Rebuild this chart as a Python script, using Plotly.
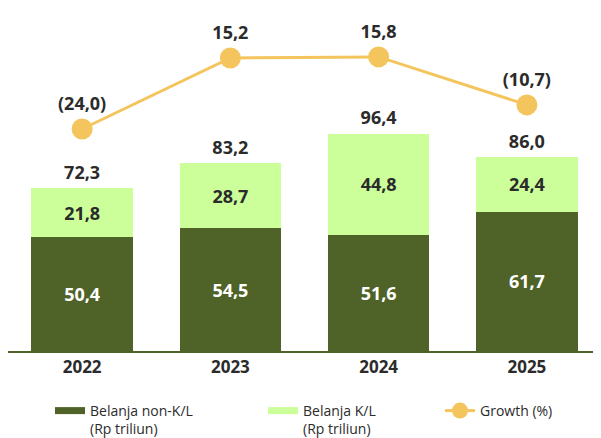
import plotly.graph_objects as go

years = ["2022", "2023", "2024", "2025"]
non_kl = [50.4, 54.5, 51.6, 61.7]
kl = [21.8, 28.7, 44.8, 24.4]
totals = [72.3, 83.2, 96.4, 86.0]
growth = [-24.0, 15.2, 15.8, -10.7]

DARK = "#4f6228"
LIGHT = "#ccff99"
GOLD = "#f4c55c"
TXT = "#2b2b2b"
FONT = "Open Sans"

W, H = 593, 430  # page body adds an 8px offset


def fmt(v):
    s = f"{abs(v):.1f}".replace(".", ",")
    return f"({s})" if v < 0 else s


fig = go.Figure()
fig.add_trace(go.Bar(
    x=years, y=non_kl, name="Belanja non-K/L", showlegend=False,
    marker=dict(color=DARK, line=dict(width=0)),
    text=[fmt(v) for v in non_kl], textposition="inside", insidetextanchor="middle",
    textfont=dict(family=FONT, size=18, color="white", weight="bold"),
    constraintext="none",
))
fig.add_trace(go.Bar(
    x=years, y=kl, name="Belanja K/L", showlegend=False,
    marker=dict(color=LIGHT, line=dict(width=0)),
    text=[fmt(v) for v in kl], textposition="inside", insidetextanchor="middle",
    textfont=dict(family=FONT, size=18, color=TXT, weight="bold"),
    constraintext="none",
))
fig.add_trace(go.Scatter(
    x=years, y=totals, mode="markers+text", showlegend=False,
    marker=dict(size=6, opacity=0), hoverinfo="skip",
    text=[fmt(v) for v in totals], textposition="top center",
    textfont=dict(family=FONT, size=18, color=TXT, weight="bold"),
))
fig.add_trace(go.Scatter(
    x=years, y=growth, mode="lines+markers+text", name="Growth (%)",
    yaxis="y2", legend="legend3",
    line=dict(color=GOLD, width=3),
    marker=dict(color=GOLD, size=21),
    text=[fmt(v) for v in growth], textposition="top center",
    textfont=dict(family=FONT, size=18, color=TXT, weight="bold"),
))
# legend-only swatches for the bar series (wide rectangles)
fig.add_trace(go.Scatter(
    x=[None], y=[None], mode="lines", name="Belanja non-K/L<br>(Rp triliun)",
    line=dict(color=DARK, width=7), legend="legend",
))
fig.add_trace(go.Scatter(
    x=[None], y=[None], mode="lines", name="Belanja K/L<br>(Rp triliun)",
    line=dict(color=LIGHT, width=7), legend="legend2",
))

leg_common = dict(
    orientation="h", xanchor="left",
    yref="container", y=0.1, yanchor="top",
    font=dict(family=FONT, size=14, color=TXT),
    valign="top", bgcolor="rgba(0,0,0,0)",
)

fig.update_layout(
    width=W, height=H,
    margin=dict(l=0, r=0, t=2, b=87),
    barmode="stack", bargap=0.314,
    paper_bgcolor="white", plot_bgcolor="white",
    separators=",.",
    font=dict(family=FONT, color=TXT),
    xaxis=dict(
        showgrid=False, showline=True, linecolor=DARK, linewidth=2,
        ticks="", tickfont=dict(family=FONT, size=17, color=TXT, weight="bold"),
        automargin=False,
    ),
    yaxis=dict(range=[0, 151.3], visible=False, showgrid=False),
    yaxis2=dict(range=[-146.6, 41.7], overlaying="y", visible=False, showgrid=False),
    legend=dict(x=42 / W, **leg_common),
    legend2=dict(x=255 / W, **leg_common),
    legend3=dict(x=432 / W, **leg_common),
    showlegend=True,
)

fig.write_html("out.html")
